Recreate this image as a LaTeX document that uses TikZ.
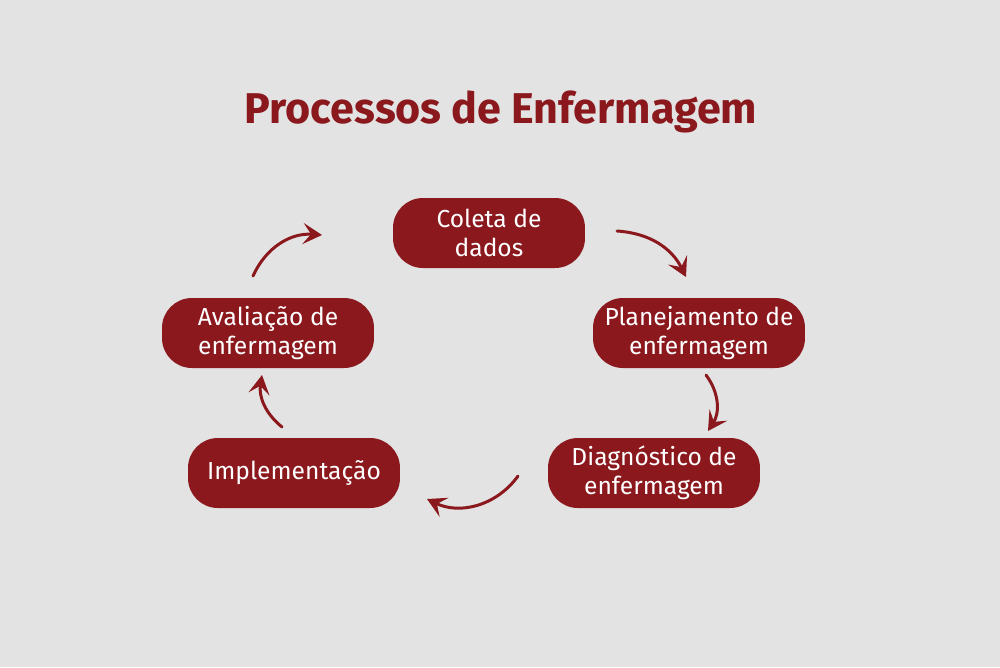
\documentclass[tikz,border=0pt]{standalone}
\usepackage{fontspec}
\setmainfont{Fira Sans}
\usetikzlibrary{arrows.meta, positioning}
\definecolor{vinho}{HTML}{8A181D}
\definecolor{fundo}{HTML}{E3E3E3}

\begin{document}
\begin{tikzpicture}[
      x=0.02cm, y=-0.02cm,
      etapa/.style={fill=vinho, rounded corners=17pt, align=center,
                    minimum width=4.24cm, minimum height=1.4cm, inner sep=2pt,
                    text=white, font=\fontsize{14}{16.5}\selectfont},
      seta/.style={-{Stealth[length=3.8mm, width=4.2mm, inset=1.6mm]},
                   line width=1.7pt, draw=vinho, line cap=round}
    ]
    \fill[fundo] (0,0) rectangle (1000,667);
    \node[text=vinho, font=\fontsize{24.5}{28}\selectfont\bfseries] (titulo) at (501,112)
      {Processos de Enfermagem};
    \node[etapa, minimum width=3.84cm] (coleta) at (489,233) {Coleta de\\dados};
    \node[etapa] (plan) at (699,333) {Planejamento de\\enfermagem};
    \node[etapa] (diag) at (654,473) {Diagnóstico de\\enfermagem};
    \node[etapa] (impl) at (294,473) {Implementação};
    \node[etapa] (aval) at (268,333) {Avaliação de\\enfermagem};
    % setas soltas entre as etapas
    \coordinate (a1) at (617,231); \coordinate (b1) at (686,277);
    \coordinate (a2) at (706,375); \coordinate (b2) at (708,431);
    \coordinate (a3) at (518,476); \coordinate (b3) at (427,499);
    \coordinate (a4) at (282,427); \coordinate (b4) at (262,375);
    \coordinate (a5) at (253,276); \coordinate (b5) at (322,235);
    \draw[seta] (a1) to[bend left=30] (b1);
    \draw[seta] (a2) to[bend left=35] (b2);
    \draw[seta] (a3) to[bend left=40] (b3);
    \draw[seta] (a4) to[bend left=30] (b4);
    \draw[seta] (a5) to[bend left=35] (b5);
  \end{tikzpicture}
\end{document}
